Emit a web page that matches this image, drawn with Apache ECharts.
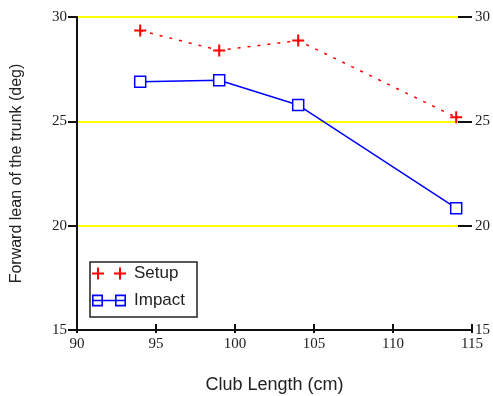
<!DOCTYPE html>
<html>
<head>
<meta charset="utf-8">
<script src="https://cdn.jsdelivr.net/npm/echarts@6/dist/echarts.min.js"></script>
<style>
html,body{margin:0;padding:0;background:#fff;}
#chart{width:493px;height:396px;}
</style>
</head>
<body>
<div id="chart"></div>
<script>
// Data
const clubLength = [94, 99, 104, 114];
const setupLean = [29.35, 28.4, 28.87, 25.19];
const impactLean = [26.9, 26.97, 25.78, 20.84];
const seriesNames = ['Setup', 'Impact'];
const xTitle = 'Club Length (cm)';
const yTitle = 'Forward lean of the trunk (deg)';

const plusPath = 'path://M0,5h12v2h-12z M5,0h2v12h-2z';
const setupIcon = 'path://M0,5h12v2h-12z M5,0h2v12h-2z M22,5h12v2h-12z M27,0h2v12h-2z';
const impactIcon = 'path://M0,0.5h11v11h-11z M1.6,2.1v7.8h7.8v-7.8z M23,0.5h11v11h-11z M24.6,2.1v7.8h7.8v-7.8z M0,5.25h34v1.5h-34z';

const serif = '"Liberation Serif", "DejaVu Serif", serif';
const sans = '"Liberation Sans", Arial, sans-serif';

const chart = echarts.init(document.getElementById('chart'), null, {renderer: 'canvas'});
chart.setOption({
  animation: false,
  backgroundColor: '#ffffff',
  grid: {left: 77, right: 21, top: 17, bottom: 66, containLabel: false, outerBoundsMode: 'none'},
  legend: {
    orient: 'vertical',
    left: 90,
    top: 262,
    itemWidth: 34,
    itemHeight: 12,
    itemGap: 10,
    symbolKeepAspect: false,
    borderColor: '#222',
    borderWidth: 1.5,
    borderRadius: 0,
    padding: [3, 12, 8, 2],
    backgroundColor: '#fff',
    textStyle: {fontFamily: sans, fontSize: 17, color: '#222', padding: [0, 0, 0, 3], lineHeight: 17},
    data: [
      {name: seriesNames[0], icon: setupIcon, itemStyle: {color: '#ff0000', borderWidth: 0}},
      {name: seriesNames[1], icon: impactIcon, itemStyle: {color: '#0000ff', borderWidth: 0}}
    ]
  },
  xAxis: [
    {
      type: 'value', min: 90, max: 115, interval: 5, position: 'bottom',
      name: xTitle, nameLocation: 'middle', nameGap: 46,
      nameTextStyle: {fontFamily: sans, fontSize: 18, color: '#222'},
      axisLine: {show: true, lineStyle: {color: '#111', width: 2}},
      axisTick: {show: true, inside: true, length: 6, lineStyle: {color: '#111', width: 2}},
      axisLabel: {fontFamily: serif, fontSize: 15, color: '#222', margin: 7},
      splitLine: {show: false}
    },
    {
      type: 'value', min: 90, max: 115, interval: 5, position: 'bottom',
      axisLine: {show: false},
      axisTick: {show: true, inside: false, length: 3, lineStyle: {color: '#111', width: 2}},
      axisLabel: {show: false},
      splitLine: {show: false}
    }
  ],
  yAxis: [
    {
      type: 'value', min: 15, max: 30, interval: 5, position: 'left',
      name: yTitle, nameLocation: 'middle', nameGap: 52, nameRotate: 90,
      nameTextStyle: {fontFamily: sans, fontSize: 16, color: '#222'},
      axisLine: {show: true, lineStyle: {color: '#111', width: 2}},
      axisTick: {show: true, inside: false, length: 9, lineStyle: {color: '#111', width: 2}},
      axisLabel: {fontFamily: serif, fontSize: 15, color: '#222', margin: 10},
      splitLine: {show: true, lineStyle: {color: '#ffff00', width: 2}}
    },
    {
      type: 'value', min: 15, max: 30, interval: 5, position: 'right',
      axisLine: {show: false},
      axisTick: {show: true, inside: true, length: 14, lineStyle: {color: '#111', width: 2}},
      axisLabel: {fontFamily: serif, fontSize: 15, color: '#222', margin: 3},
      splitLine: {show: false}
    }
  ],
  series: [
    {
      name: seriesNames[0], type: 'line', xAxisIndex: 0, yAxisIndex: 0,
      data: clubLength.map((x, i) => [x, setupLean[i]]),
      symbol: plusPath, symbolSize: 12, symbolKeepAspect: true,
      itemStyle: {color: '#ff0000'},
      lineStyle: {color: '#ff0000', width: 1.5, type: [3, 7]},
      z: 3
    },
    {
      name: seriesNames[1], type: 'line', xAxisIndex: 0, yAxisIndex: 0,
      data: clubLength.map((x, i) => [x, impactLean[i]]),
      symbol: 'rect', symbolSize: 11,
      itemStyle: {color: '#ffffff', borderColor: '#0000ff', borderWidth: 1.5},
      lineStyle: {color: '#0000ff', width: 1.5},
      z: 3
    }
  ]
});
</script>
</body>
</html>
